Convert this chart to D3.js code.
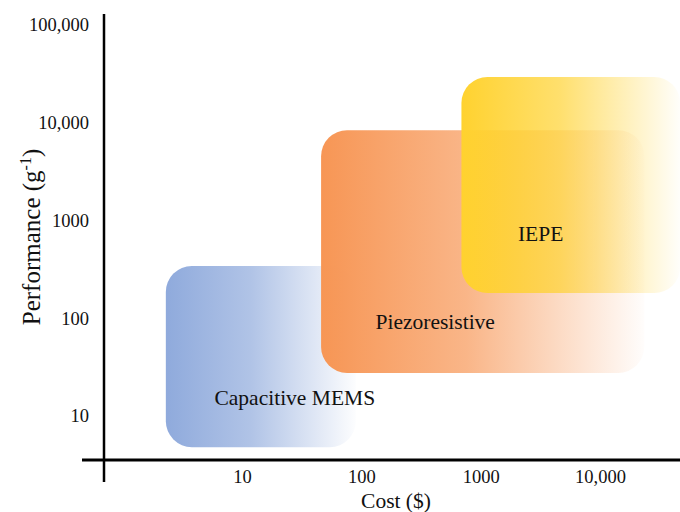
<!DOCTYPE html>
<html><head><meta charset="utf-8">
<script src="https://cdn.jsdelivr.net/npm/d3@7"></script>
<style>body{margin:0;background:#fff}svg{display:block}</style>
</head><body><svg id="c" width="680" height="512"></svg>
<script>
const categories = ["Capacitive MEMS", "Piezoresistive", "IEPE"];
const costMin = [2.3, 46, 690];
const costMax = [90, 23500, 47000];
const perfMin = [4.8, 27.6, 181];
const perfMax = [343, 8400, 29400];
const labelCost = [27.7, 416, 3180];
const labelPerf = [15.6, 91.6, 745];
const colors = ["#8FAADC", "#F79655", "#FFD22F"];
const xTicks = [10, 100, 1000, 10000];
const yTicks = [10, 100, 1000, 10000, 100000];
const xTickLabels = ["10", "100", "1000", "10,000"];
const yTickLabels = ["10", "100", "1000", "10,000", "100,000"];

const FONT = "'Liberation Serif', 'Times New Roman', serif";
const svg = d3.select("#c");
const x = d3.scaleLog().domain([10, 10000]).range([242, 600]);
const y = d3.scaleLog().domain([10, 100000]).range([416, 25]);

const defs = svg.append("defs");
colors.forEach((c, i) => {
  const g = defs.append("linearGradient").attr("id", "g" + i).attr("x1", "0").attr("x2", "1").attr("y1", "0").attr("y2", "0");
  g.append("stop").attr("offset", "0").attr("stop-color", c).attr("stop-opacity", 1);
  g.append("stop").attr("offset", "0.45").attr("stop-color", c).attr("stop-opacity", 0.7);
  g.append("stop").attr("offset", "1").attr("stop-color", c).attr("stop-opacity", 0.02);
});

svg.append("g").selectAll("rect").data(categories).join("rect")
  .attr("x", (d, i) => x(costMin[i]))
  .attr("y", (d, i) => y(perfMax[i]))
  .attr("width", (d, i) => x(costMax[i]) - x(costMin[i]))
  .attr("height", (d, i) => y(perfMin[i]) - y(perfMax[i]))
  .attr("rx", 26).attr("ry", 26)
  .attr("fill", (d, i) => `url(#g${i})`);

svg.append("g").selectAll("text").data(categories).join("text")
  .attr("x", (d, i) => x(labelCost[i]))
  .attr("y", (d, i) => y(labelPerf[i]))
  .attr("dy", "0.35em")
  .attr("text-anchor", "middle")
  .style("font-family", FONT).style("font-size", "21.5px").style("fill", "#111")
  .text(d => d);

// axes
const yAxis = d3.axisLeft(y).tickValues(yTicks).tickFormat((d, i) => yTickLabels[i]).tickSize(0).tickPadding(0);
const yg = svg.append("g").attr("transform", "translate(89,0)").call(yAxis);
yg.select(".domain").remove();
yg.selectAll("text").style("font-family", FONT).style("font-size", "18.5px").style("fill", "#111");

const xAxis = d3.axisBottom(x).tickValues(xTicks).tickFormat((d, i) => xTickLabels[i]).tickSize(0).tickPadding(0);
const xg = svg.append("g").attr("transform", "translate(0,470)").call(xAxis);
xg.select(".domain").remove();
xg.selectAll("text").style("font-family", FONT).style("font-size", "18.5px").style("fill", "#111");

svg.append("line").attr("x1", 104).attr("x2", 104).attr("y1", 14).attr("y2", 482).attr("stroke", "#000").attr("stroke-width", 2.5);
svg.append("line").attr("x1", 82).attr("x2", 680).attr("y1", 460).attr("y2", 460).attr("stroke", "#000").attr("stroke-width", 3);

svg.append("text").attr("x", 396).attr("y", 508).attr("text-anchor", "middle")
  .style("font-family", FONT).style("font-size", "21.5px").style("fill", "#111").text("Cost ($)");
const yt = svg.append("text").attr("transform", "translate(40,237) rotate(-90)").attr("text-anchor", "middle")
  .style("font-family", FONT).style("font-size", "25px").style("fill", "#111");
yt.append("tspan").text("Performance (g");
yt.append("tspan").attr("dy", -9).style("font-size", "16px").text("-1");
yt.append("tspan").attr("dy", 9).text(")");
</script></body></html>
